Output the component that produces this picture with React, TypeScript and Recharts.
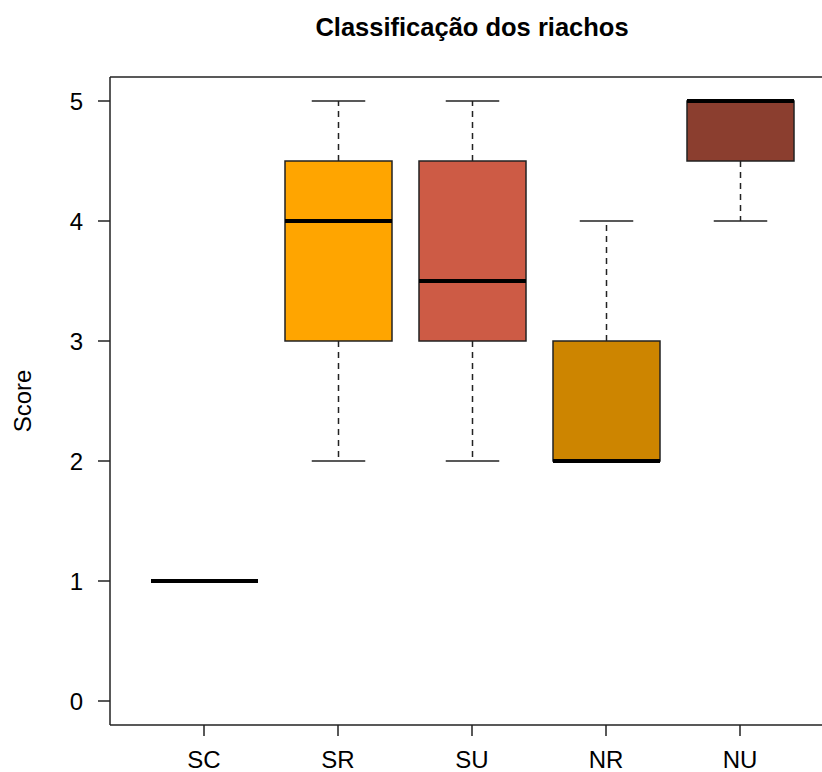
import React from 'react';
import { ComposedChart, Bar, XAxis, YAxis, ReferenceLine } from 'recharts';

const CATEGORIES = ['SC', 'SR', 'SU', 'NR', 'NU'];
const MINS = [1, 2, 2, 2, 4];
const Q1S = [1, 3, 3, 2, 4.5];
const MEDIANS = [1, 4, 3.5, 2, 5];
const Q3S = [1, 4.5, 4.5, 3, 5];
const MAXS = [1, 5, 5, 4, 5];
const FILLS = ['#FFFFFF', '#FFA500', '#CD5B45', '#CD8500', '#8B3E2F'];
const Y_TICKS = [0, 1, 2, 3, 4, 5];
const Y_DOMAIN: [number, number] = [-0.2, 5.2];

const data = CATEGORIES.map((name, i) => ({
  name,
  min: MINS[i],
  q1: Q1S[i],
  median: MEDIANS[i],
  q3: Q3S[i],
  max: MAXS[i],
  fill: FILLS[i],
}));

const FONT = '"Liberation Sans", Arial, sans-serif';
const LINE = '#222';

// desenha caixa, mediana e bigodes a partir da barra [min, max]
const BoxShape = (props: any) => {
  const { x, y, width, height, payload } = props;
  const top = Math.min(y, y + height);
  const bottom = Math.max(y, y + height);
  const span = payload.max - payload.min;
  const py = (v: number) => (span === 0 ? top : bottom - ((v - payload.min) * (bottom - top)) / span);
  const cx = x + width / 2;
  const cap = width / 4;
  const yq1 = py(payload.q1);
  const yq3 = py(payload.q3);
  const yMed = py(payload.median);
  const yMin = py(payload.min);
  const yMax = py(payload.max);
  return (
    <g>
      <line x1={cx} x2={cx} y1={yq3} y2={yMax} stroke={LINE} strokeWidth={1.5} strokeDasharray="6 5" />
      <line x1={cx} x2={cx} y1={yq1} y2={yMin} stroke={LINE} strokeWidth={1.5} strokeDasharray="6 5" />
      <line x1={cx - cap} x2={cx + cap} y1={yMax} y2={yMax} stroke={LINE} strokeWidth={1.5} />
      <line x1={cx - cap} x2={cx + cap} y1={yMin} y2={yMin} stroke={LINE} strokeWidth={1.5} />
      <rect x={x} y={yq3} width={width} height={yq1 - yq3} fill={payload.fill} stroke={LINE} strokeWidth={1.5} />
      <line x1={x} x2={x + width} y1={yMed} y2={yMed} stroke="#000" strokeWidth={4} />
    </g>
  );
};

export default function App() {
  return (
    <div style={{ position: 'fixed', left: 0, top: 0, width: 822, height: 772, overflow: 'hidden', background: '#fff' }}>
      <div
        style={{
          position: 'absolute',
          left: 110,
          width: 724,
          top: 15,
          textAlign: 'center',
          fontFamily: FONT,
          fontWeight: 'bold',
          fontSize: 25.5,
          lineHeight: '25px',
          color: '#000',
        }}
      >
        Classificação dos riachos
      </div>
      <ComposedChart width={860} height={772} data={data} margin={{ top: 77, right: 26, bottom: 0, left: 0 }}>
        <XAxis
          dataKey="name"
          type="category"
          height={47}
          padding={{ left: 27, right: 27 }}
          tickSize={11}
          tickMargin={15}
          axisLine={{ stroke: LINE, strokeWidth: 1.5 }}
          tickLine={{ stroke: LINE, strokeWidth: 1.5 }}
          tick={{ fill: '#000', fontSize: 24, fontFamily: FONT }}
        />
        <YAxis
          type="number"
          domain={Y_DOMAIN}
          ticks={Y_TICKS}
          allowDataOverflow
          width={110}
          tickSize={12}
          tickMargin={15}
          axisLine={{ stroke: LINE, strokeWidth: 1.5 }}
          tickLine={{ stroke: LINE, strokeWidth: 1.5 }}
          tick={{ fill: '#000', fontSize: 24, fontFamily: FONT }}
          label={{ value: 'Score', angle: -90, position: 'center', dx: -33, fill: '#000', fontSize: 24, fontFamily: FONT }}
        />
        <ReferenceLine y={Y_DOMAIN[1]} stroke={LINE} strokeWidth={1.5} />
        <Bar dataKey={(d: any) => [d.min, d.max]} barSize={107} shape={BoxShape} isAnimationActive={false} />
      </ComposedChart>
    </div>
  );
}
